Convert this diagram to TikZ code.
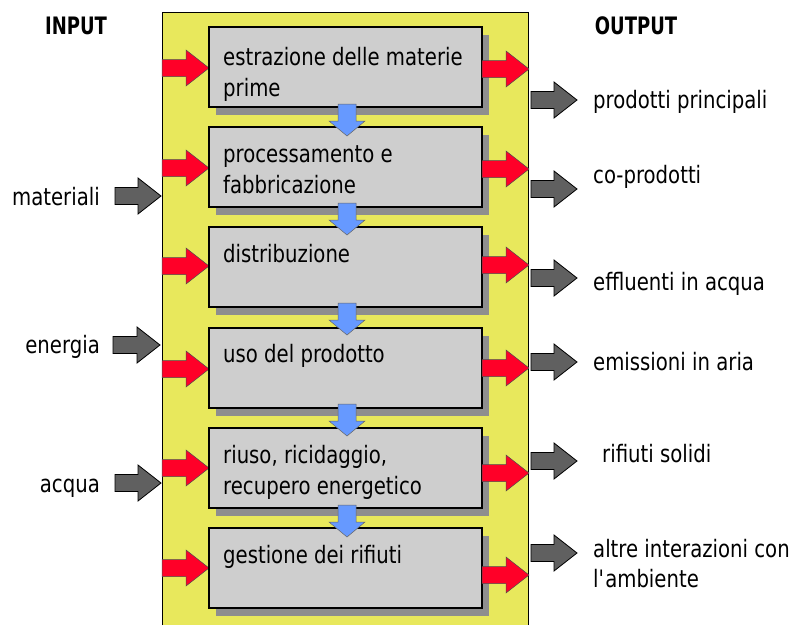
\documentclass[tikz,border=0pt]{standalone}
\usepackage{fontspec}
\setmainfont{DejaVu Sans}[FakeStretch=0.82]
\newfontfamily\headfont{DejaVu Sans}[FakeStretch=0.75]
\usetikzlibrary{shadows}
\definecolor{panel}{RGB}{232,232,92}
\definecolor{boxgray}{RGB}{206,206,206}
\definecolor{shadowgray}{RGB}{142,142,142}
\definecolor{flowred}{RGB}{255,0,40}
\definecolor{flowblue}{RGB}{102,153,255}
\definecolor{flowgray}{RGB}{96,96,96}

% horizontal fat arrow: style, tail x, tip x, y
\newcommand\hfat[4]{%
  \path[#1] (#2,#4-8.5) -- (#3-23,#4-8.5) -- (#3-23,#4-18) -- (#3,#4)
    -- (#3-23,#4+18) -- (#3-23,#4+8.5) -- (#2,#4+8.5) -- cycle;}
% vertical fat arrow between two stages: x, tail y, head start y, tip y
\newcommand\vfat[4]{%
  \path[downflow] (#1-9,#2) -- (#1-9,#3) -- (#1-18,#3) -- (#1,#4)
    -- (#1+18,#3) -- (#1+9,#3) -- (#1+9,#2) -- cycle;}

\tikzset{
  stage/.style={draw=black, line width=1.3pt, fill=boxgray,
    minimum width=273pt, minimum height=80pt, inner sep=0pt,
    general shadow={fill=shadowgray, shadow xshift=7pt, shadow yshift=-8pt}},
  stagetext/.style={anchor=north west, align=left, inner sep=0pt,
    font=\fontsize{24}{31}\selectfont},
  inflow/.style={fill=flowred, draw=black!70, line width=0.5pt},
  extflow/.style={fill=flowgray, draw=black, line width=0.8pt},
  downflow/.style={fill=flowblue, draw=black!60, line width=0.5pt},
  lbl/.style={inner sep=0pt, font=\fontsize{24}{30}\selectfont},
  head/.style={inner sep=0pt, font=\headfont\bfseries\fontsize{24}{28}\selectfont}
}

\begin{document}
\begin{tikzpicture}[x=1pt,y=-1pt]
\useasboundingbox (0,0) rectangle (793,625);

% yellow system boundary
\fill[panel] (162,12) rectangle (528,625);
\draw[line width=1pt] (162,625) -- (162,12) -- (528,12) -- (528,625);

% red inputs into each stage
\hfat{inflow}{162}{209}{68}
\hfat{inflow}{162}{209}{168}
\hfat{inflow}{162}{209}{266}
\hfat{inflow}{162}{209}{369}
\hfat{inflow}{162}{209}{468}
\hfat{inflow}{162}{209}{568}

% life-cycle stages
\node[stage] (s1) at (345.5,67) {};
\node[stage] (s2) at (345.5,167) {};
\node[stage] (s3) at (345.5,267) {};
\node[stage] (s4) at (345.5,368) {};
\node[stage] (s5) at (345.5,468) {};
\node[stage] (s6) at (345.5,568) {};

\node[stagetext] (t1) at (223,47) {estrazione delle materie\\prime};
\node[stagetext] (t2) at (223,145) {processamento e\\fabbricazione};
\node[stagetext] (t3) at (223,244) {distribuzione};
\node[stagetext] (t4) at (223,344) {uso del prodotto};
\node[stagetext] (t5) at (223,445) {riuso, ricidaggio,\\recupero energetico};
\node[stagetext] (t6) at (223,545) {gestione dei rifiuti};

% red outputs of each stage
\hfat{inflow}{482}{529}{69}
\hfat{inflow}{482}{529}{169}
\hfat{inflow}{482}{529}{265}
\hfat{inflow}{482}{529}{368}
\hfat{inflow}{482}{529}{473}
\hfat{inflow}{482}{529}{575}

% blue flow from stage to stage
\vfat{347}{104}{121}{136}
\vfat{347}{203}{220}{235}
\vfat{347}{303}{320}{335}
\vfat{347}{404}{421}{436}
\vfat{347}{505}{522}{537}

% external inputs
\node[head] (inhead) at (76,26) {INPUT};
\node[lbl, anchor=base east] (mat) at (100,205) {materiali};
\node[lbl, anchor=base east] (ene) at (100,353) {energia};
\node[lbl, anchor=base east] (acq) at (100,492) {acqua};
\hfat{extflow}{115}{161}{196}
\hfat{extflow}{113}{160}{345}
\hfat{extflow}{115}{161}{483}

% external outputs
\node[head] (outhead) at (636,26) {OUTPUT};
\hfat{extflow}{531}{577}{100}
\hfat{extflow}{531}{577}{189}
\hfat{extflow}{531}{577}{278}
\hfat{extflow}{531}{577}{362}
\hfat{extflow}{531}{577}{461}
\hfat{extflow}{531}{577}{553}
\node[lbl, anchor=base west] (o1) at (593,108) {prodotti principali};
\node[lbl, anchor=base west] (o2) at (593,183) {co-prodotti};
\node[lbl, anchor=base west] (o3) at (593,290) {effluenti in acqua};
\node[lbl, anchor=base west] (o4) at (593,370) {emissioni in aria};
\node[lbl, anchor=base west] (o5) at (602,462) {rifiuti solidi};
\node[lbl, anchor=north west, align=left] (o6) at (593,539) {altre interazioni con\\l\textquotesingle ambiente};
\end{tikzpicture}
\end{document}
